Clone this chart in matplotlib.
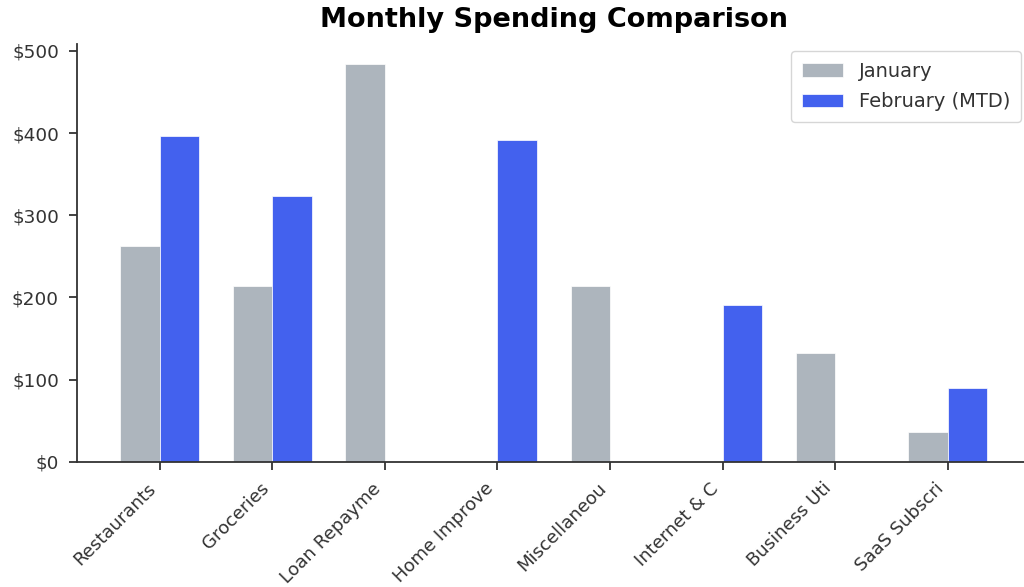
import matplotlib
matplotlib.use("Agg")
import matplotlib.pyplot as plt
import numpy as np
from matplotlib.ticker import FuncFormatter

categories = ["Restaurants", "Groceries", "Loan Repayment", "Home Improvement",
              "Miscellaneous", "Internet & Cable", "Business Utilities", "SaaS Subscriptions"]
january = [263, 214, 484, 0, 214, 0, 132, 37]
february = [396, 323, 0, 392, 0, 191, 0, 90]
tick_labels = [c[:12] for c in categories]

dark = "#333333"
fig = plt.figure(figsize=(10.24, 5.87), dpi=100)
ax = fig.add_axes([0.0752, 0.213, 0.931, 0.712])

x = np.arange(len(categories))
w = 0.35
ax.bar(x - w / 2, january, w, label="January", color="#adb5bd", edgecolor="white", linewidth=0.5)
ax.bar(x + w / 2, february, w, label="February (MTD)", color="#4361ee", edgecolor="white", linewidth=0.5)

ax.set_xticks(x)
ax.set_xticklabels(tick_labels, rotation=45, ha="right", fontsize=13, color=dark)
ax.yaxis.set_major_formatter(FuncFormatter(lambda v, p: f"${v:,.0f}"))
ax.tick_params(axis="y", labelsize=13.3, labelcolor=dark, pad=7)
ax.tick_params(axis="x", pad=6.5)
ax.tick_params(colors=dark, width=1.3, length=6)
ax.set_xlim(-0.735, 7.735)
ax.spines["top"].set_visible(False)
ax.spines["right"].set_visible(False)
for s in ("left", "bottom"):
    ax.spines[s].set_color(dark)
    ax.spines[s].set_linewidth(1.3)
ax.set_title("Monthly Spending Comparison", fontsize=19.5, fontweight="bold", pad=12)
leg = ax.legend(loc="upper right", bbox_to_anchor=(1.0, 1.007), fontsize=14,
                labelspacing=0.6, borderpad=0.55, handlelength=2.1)
for t in leg.get_texts():
    t.set_color(dark)

fig.savefig("out.png", dpi=100)
